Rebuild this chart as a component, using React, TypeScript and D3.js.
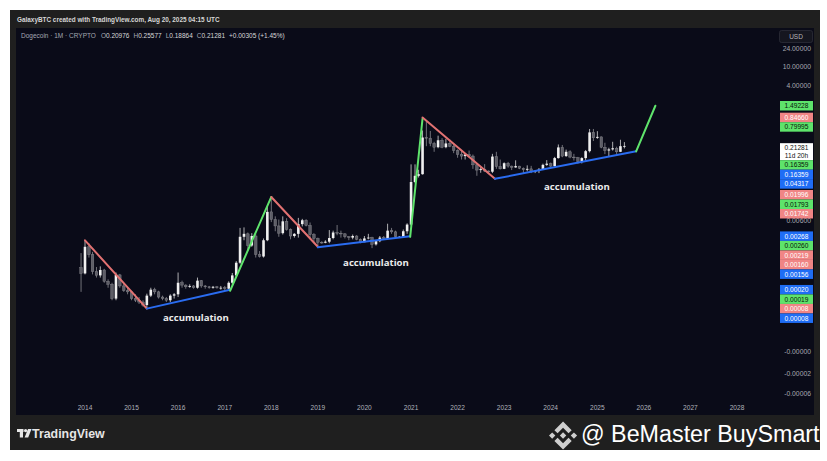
import React from "react";
import * as d3 from "d3";

const W = 827;
const H = 461;

// Monthly DOGE candles, first candle = Dec 2013
const firstYear = 2013;
const firstMonthIdx = 11;
const opens = [
  0.00058,
  0.00044, 0.0016, 0.0011, 0.00048, 0.0004, 0.00052, 0.0003, 0.00026, 0.00013, 0.00041, 0.00024, 0.00019,
  0.00018, 0.00013, 0.00012, 0.00011, 0.000095, 0.00015, 0.0002, 0.00018, 0.00014, 0.00013, 0.00012, 0.00015,
  0.00016, 0.00028, 0.00025, 0.00023, 0.00024, 0.00022, 0.00031, 0.00024, 0.00023, 0.00022, 0.00023, 0.00022,
  0.00022, 0.00021, 0.00028, 0.0004, 0.00074, 0.0026, 0.003, 0.0017, 0.0027, 0.0011, 0.001, 0.0022,
  0.0087, 0.006, 0.0044, 0.0031, 0.0055, 0.0037, 0.0027, 0.003, 0.0048, 0.0058, 0.0045, 0.0029,
  0.0024, 0.002, 0.00195, 0.00205, 0.00245, 0.0032, 0.0031, 0.003, 0.0026, 0.0025, 0.0027, 0.0023,
  0.002, 0.0024, 0.0025, 0.0018, 0.0021, 0.0025, 0.0024, 0.0035, 0.0033, 0.0026, 0.0026, 0.0034,
  0.0047, 0.037, 0.05, 0.054, 0.32, 0.31, 0.24, 0.2, 0.28, 0.2, 0.24, 0.21,
  0.17, 0.14, 0.13, 0.14, 0.13, 0.085, 0.066, 0.069, 0.063, 0.061, 0.127, 0.078,
  0.07, 0.092, 0.08, 0.075, 0.08, 0.072, 0.067, 0.07, 0.063, 0.063, 0.068, 0.085,
  0.09, 0.08, 0.118, 0.198, 0.13, 0.16, 0.124, 0.12, 0.1, 0.118, 0.165, 0.41,
  0.315, 0.33, 0.2, 0.17, 0.18, 0.19, 0.16, 0.20976,
];
const highs = [
  0.00118,
  0.0022, 0.0019, 0.00125, 0.0006, 0.00062, 0.00055, 0.00033, 0.00028, 0.00046, 0.00043, 0.00027, 0.00023,
  0.00019, 0.00016, 0.00014, 0.00012, 0.000165, 0.00022, 0.00022, 0.00019, 0.00015, 0.00014, 0.00016, 0.00017,
  0.00046, 0.00031, 0.00026, 0.00026, 0.00025, 0.00036, 0.00032, 0.00025, 0.00024, 0.00024, 0.00024, 0.00024,
  0.00024, 0.0003, 0.00045, 0.0008, 0.004, 0.0041, 0.0032, 0.0031, 0.003, 0.0013, 0.0024, 0.011,
  0.0186, 0.007, 0.006, 0.007, 0.0064, 0.0039, 0.0031, 0.0065, 0.0062, 0.0061, 0.0052, 0.0031,
  0.0025, 0.0021, 0.0022, 0.0036, 0.0035, 0.0046, 0.0035, 0.0031, 0.0027, 0.0029, 0.0028, 0.0024,
  0.0027, 0.003, 0.0026, 0.0022, 0.0027, 0.0027, 0.0049, 0.004, 0.0035, 0.0027, 0.0037, 0.005,
  0.087, 0.087, 0.067, 0.45, 0.74, 0.44, 0.26, 0.35, 0.31, 0.3, 0.29, 0.23,
  0.18, 0.17, 0.15, 0.17, 0.14, 0.09, 0.076, 0.088, 0.065, 0.145, 0.16, 0.11,
  0.096, 0.098, 0.082, 0.106, 0.081, 0.075, 0.083, 0.081, 0.065, 0.073, 0.09, 0.107,
  0.095, 0.125, 0.228, 0.223, 0.178, 0.172, 0.145, 0.125, 0.123, 0.175, 0.484, 0.484,
  0.435, 0.335, 0.248, 0.195, 0.26, 0.205, 0.287, 0.25577,
];
const lows = [
  0.00018,
  0.00042, 0.00095, 0.00042, 0.00036, 0.00036, 0.00028, 0.00022, 0.00012, 0.00012, 0.00022, 0.00018, 0.00016,
  0.00012, 0.00011, 0.0001, 0.000088, 0.00008, 0.00014, 0.00016, 0.00013, 0.00012, 0.00011, 0.00011, 0.00013,
  0.00014, 0.00022, 0.00021, 0.00022, 0.00021, 0.00021, 0.00022, 0.00021, 0.00021, 0.00021, 0.00021, 0.0002,
  0.00019, 0.0002, 0.00026, 0.00036, 0.0007, 0.0022, 0.0013, 0.0016, 0.00095, 0.00095, 0.00095, 0.0021,
  0.0053, 0.0034, 0.0026, 0.0029, 0.0035, 0.0023, 0.0025, 0.0025, 0.0043, 0.0043, 0.0023, 0.0019,
  0.00165, 0.00185, 0.0019, 0.0019, 0.0023, 0.0028, 0.0025, 0.0024, 0.0022, 0.0023, 0.0022, 0.0019,
  0.002, 0.0023, 0.0015, 0.0017, 0.002, 0.0023, 0.0024, 0.003, 0.0024, 0.0025, 0.0025, 0.003,
  0.0045, 0.035, 0.046, 0.053, 0.21, 0.21, 0.16, 0.19, 0.19, 0.19, 0.2, 0.15,
  0.12, 0.11, 0.11, 0.12, 0.07, 0.05, 0.058, 0.06, 0.057, 0.057, 0.07, 0.068,
  0.069, 0.074, 0.066, 0.074, 0.069, 0.055, 0.062, 0.057, 0.057, 0.057, 0.067, 0.081,
  0.076, 0.078, 0.115, 0.123, 0.125, 0.117, 0.105, 0.09, 0.091, 0.106, 0.155, 0.27,
  0.3, 0.19, 0.143, 0.13, 0.17, 0.142, 0.158, 0.18864,
];
const closes = [
  0.00044,
  0.0016, 0.0011, 0.00048, 0.0004, 0.00052, 0.0003, 0.00026, 0.00013, 0.00041, 0.00024, 0.00019, 0.00018,
  0.00013, 0.00012, 0.00011, 0.000095, 0.00015, 0.0002, 0.00018, 0.00014, 0.00013, 0.00012, 0.00015, 0.00016,
  0.00028, 0.00025, 0.00023, 0.00024, 0.00022, 0.00031, 0.00024, 0.00023, 0.00022, 0.00023, 0.00022, 0.00022,
  0.00021, 0.00028, 0.0004, 0.00074, 0.0026, 0.003, 0.0017, 0.0027, 0.0011, 0.001, 0.0022, 0.0087,
  0.006, 0.0044, 0.0031, 0.0055, 0.0037, 0.0027, 0.003, 0.0048, 0.0058, 0.0045, 0.0029, 0.0024,
  0.002, 0.00195, 0.00205, 0.00245, 0.0032, 0.0031, 0.003, 0.0026, 0.0025, 0.0027, 0.0023, 0.002,
  0.0024, 0.0025, 0.0018, 0.0021, 0.0025, 0.0024, 0.0035, 0.0033, 0.0026, 0.0026, 0.0034, 0.0047,
  0.037, 0.05, 0.054, 0.32, 0.31, 0.24, 0.2, 0.28, 0.2, 0.24, 0.21, 0.17,
  0.14, 0.13, 0.14, 0.13, 0.085, 0.066, 0.069, 0.063, 0.061, 0.127, 0.078, 0.07,
  0.092, 0.08, 0.075, 0.08, 0.072, 0.067, 0.07, 0.063, 0.063, 0.068, 0.085, 0.09,
  0.08, 0.118, 0.198, 0.13, 0.16, 0.124, 0.12, 0.1, 0.118, 0.165, 0.41, 0.315,
  0.33, 0.2, 0.17, 0.18, 0.19, 0.16, 0.21, 0.21281,
];

// Trend lines (cycle drawings)
const trendKinds = ["red", "blue", "green", "red", "blue", "green", "red", "blue", "green"];
const trendStartDates = ["2014-01-01", "2015-05-01", "2017-02-12", "2018-01-01", "2019-01-01", "2020-12-25", "2021-04-01", "2022-10-21", "2025-11-01"];
const trendStartPrices = [0.00219, 0.00008, 0.00019, 0.01793, 0.00156, 0.0026, 0.8466, 0.04317, 0.16359];
const trendEndDates = ["2015-05-01", "2017-02-12", "2018-01-01", "2019-01-01", "2020-12-25", "2021-04-01", "2022-10-21", "2025-11-01", "2026-04-01"];
const trendEndPrices = [0.00008, 0.0002, 0.01793, 0.0016, 0.00268, 0.79995, 0.04317, 0.16359, 1.49228];

// Annotations
const noteTexts = ["accumulation", "accumulation", "accumulation"];
const noteDates = ["2016-05-20", "2020-04-01", "2024-07-25"];
const notePrices = [0.0000507, 0.00073, 0.029];

// Price-axis labels of drawings
const labelTexts = ["1.49228", "0.84660", "0.79995", "0.16359", "0.16359", "0.04317", "0.01996", "0.01793", "0.01742", "0.00268", "0.00260", "0.00219", "0.00160", "0.00156", "0.00020", "0.00019", "0.00008", "0.00008"];
const labelKinds = ["green", "red", "green", "green", "blue", "blue", "red", "green", "red", "blue", "green", "red", "red", "blue", "blue", "green", "red", "blue"];
const lastPrice = 0.21281;
const lastPriceText = "0.21281";
const countdownText = "11d 20h";

// Grey price ticks
const tickTexts = ["24.00000", "10.00000", "4.00000", "0.00600", "-0.00000", "-0.00002", "-0.00006"];
const tickAnchors = [24, 10, 4, 0.0057, 0.0000098, 0.0000035, 0.0000013];

const yearTicks = [2014, 2015, 2016, 2017, 2018, 2019, 2020, 2021, 2022, 2023, 2024, 2025, 2026, 2027, 2028];

const headerText = "GalaxyBTC created with TradingView.com, Aug 20, 2025 04:15 UTC";
const symbolText = "Dogecoin \u00b7 1M \u00b7 CRYPTO";
const ohlcNames = ["O", "H", "L", "C"];
const ohlcValues = ["0.20976", "0.25577", "0.18864", "0.21281"];
const changeText = "+0.00305 (+1.45%)";

const LINE_COLORS: Record<string, string> = { red: "#e27272", blue: "#2a6cf0", green: "#5fe46c" };
const LABEL_BG: Record<string, string> = { red: "#f08585", blue: "#1f6df5", green: "#5ee36b" };
const LABEL_FG: Record<string, string> = { red: "#ffffff", blue: "#ffffff", green: "#06140a" };

const FONT = "'Liberation Sans', Arial, sans-serif";

type Item = { text: string; sub?: string; bg: string; fg: string; want: number; h: number; top?: number };

// TradingView-like stacking: labels keep their price unless pushed down by the one above
function layoutLabels(items: Item[]) {
  const sorted = [...items].sort((a, b) => a.want - b.want);
  let prevBottom = -Infinity;
  sorted.forEach((it) => {
    const t = Math.max(it.want - 4.75, prevBottom);
    it.top = t;
    prevBottom = t + it.h;
  });
  return sorted;
}

function BinanceLogo({ x, y, s }: { x: number; y: number; s: number }) {
  return (
    <g transform={`translate(${x},${y}) scale(${s})`}>
      <path
        fill="#cfcfcf"
        d="M38.73 53.2l24.59-24.58 24.6 24.6 14.3-14.31L63.32 0 24.43 38.9l14.3 14.3zM0 63.31l14.3-14.31 14.31 14.31-14.31 14.3zM38.73 73.41l24.59 24.59 24.6-24.6 14.31 14.29-38.9 38.91-38.91-38.88-.02-.02zM98 63.31L112.3 49l14.31 14.3-14.31 14.32zM77.83 63.3L63.32 48.78 52.59 59.51l-1.24 1.230-2.54 2.54-.02.02.02.03 14.51 14.5 14.51-14.52.01-.01-.01-.01z"
      />
    </g>
  );
}

export default function App() {
  const x = d3
    .scaleUtc()
    .domain([new Date(Date.UTC(2014, 0, 1)), new Date(Date.UTC(2028, 0, 1))])
    .range([85, 737]);
  const y = d3.scaleLog().domain([1, 0.0001]).range([114, 304]);

  const months = opens.map((_, i) => new Date(Date.UTC(firstYear, firstMonthIdx + i, 1)));
  const bodyW = 2.6;

  const lineGen = d3
    .line<[Date, number]>()
    .x((d) => x(d[0]))
    .y((d) => y(d[1]));

  const items: Item[] = labelTexts.map((t, i) => ({
    text: t,
    bg: LABEL_BG[labelKinds[i]],
    fg: LABEL_FG[labelKinds[i]],
    want: y(parseFloat(t)),
    h: 9.5,
  }));
  items.push({ text: lastPriceText, sub: countdownText, bg: "#ffffff", fg: "#111111", want: y(lastPrice) + 2, h: 17 });
  const laid = layoutLabels(items);

  const labelX = 780;
  const labelW = 33;

  return (
    <svg width={W} height={H} style={{ position: "absolute", left: 0, top: 0 }} fontFamily={FONT}>
      <rect x={0} y={0} width={W} height={H} fill="#ffffff" />
      <rect x={10} y={10} width={810} height={440} fill="#1f1f1f" />
      <rect x={16} y={28} width={798} height={387} fill="#0a0b18" />

      <text x={17} y={21.5} fontSize={6.4} fill="#d6d6d6" fontWeight={600}>
        {headerText}
      </text>
      <text x={21} y={37.5} fontSize={6.5} fill="#a4a7b2">
        <tspan>{symbolText}</tspan>
        {ohlcNames.map((n, i) => (
          <tspan key={n} dx={i === 0 ? 5 : 4}>
            {n}
            <tspan fill="#d8d8d8">{ohlcValues[i]}</tspan>
          </tspan>
        ))}
        <tspan dx={4} fill="#d8d8d8">{changeText}</tspan>
      </text>

      <clipPath id="plot">
        <rect x={16} y={28} width={760} height={387} />
      </clipPath>
      <g clipPath="url(#plot)">
        {months.map((d, i) => {
          const cx = x(d);
          const up = closes[i] >= opens[i];
          const top = y(Math.max(opens[i], closes[i]));
          const bot = y(Math.min(opens[i], closes[i]));
          return (
            <g key={i}>
              <line x1={cx} x2={cx} y1={y(highs[i])} y2={y(lows[i])} stroke={up ? "#d8d8d8" : "#8c8c92"} strokeWidth={0.8} />
              <rect
                x={cx - bodyW / 2}
                y={top}
                width={bodyW}
                height={Math.max(0.8, bot - top)}
                fill={up ? "#f0f0f0" : "#5d5d66"}
                stroke={up ? "none" : "#8c8c92"}
                strokeWidth={0.4}
              />
            </g>
          );
        })}
        {trendKinds.map((k, i) => (
          <path
            key={i}
            d={lineGen([
              [new Date(trendStartDates[i] + "T00:00:00Z"), trendStartPrices[i]],
              [new Date(trendEndDates[i] + "T00:00:00Z"), trendEndPrices[i]],
            ]) || ""}
            stroke={LINE_COLORS[k]}
            strokeWidth={2}
            fill="none"
            strokeLinecap="round"
          />
        ))}
        {noteTexts.map((t, i) => (
          <text
            key={i}
            x={x(new Date(noteDates[i] + "T00:00:00Z"))}
            y={y(notePrices[i])}
            textAnchor="middle"
            dominantBaseline="middle"
            fontSize={9.6}
            fontWeight={700}
            fill="#ececec"
            fontFamily="'Open Sans', 'DejaVu Sans', sans-serif"
          >
            {t}
          </text>
        ))}
      </g>

      {/* price axis */}
      <rect x={779.5} y={30.5} width={33} height={12} rx={2} fill="#15161f" stroke="#2c2d38" strokeWidth={0.8} />
      <text x={796} y={39} textAnchor="middle" fontSize={6.5} fill="#b4b4b8">
        USD
      </text>
      {tickTexts.map((t, i) => (
        <text key={t} x={811} y={y(tickAnchors[i])} dy="0.35em" textAnchor="end" fontSize={6.8} fill="#a6a8b0">
          {t}
        </text>
      ))}
      {laid.map((it, i) => (
        <g key={i}>
          <rect x={labelX} y={it.top} width={labelW} height={it.h} fill={it.bg} />
          <text x={labelX + labelW / 2} y={(it.top || 0) + 4.75} dy="0.36em" textAnchor="middle" fontSize={6.6} fill={it.fg}>
            {it.text}
          </text>
          {it.sub && (
            <text x={labelX + labelW / 2} y={(it.top || 0) + 12.5} dy="0.36em" textAnchor="middle" fontSize={6.6} fill={it.fg}>
              {it.sub}
            </text>
          )}
        </g>
      ))}

      {/* time axis */}
      {yearTicks.map((yr) => (
        <text key={yr} x={x(new Date(Date.UTC(yr, 0, 1)))} y={409.5} textAnchor="middle" fontSize={6.6} fill="#b0b2ba">
          {yr}
        </text>
      ))}

      {/* footer */}
      <g fill="#e6e6e6">
        <rect x={17} y={429} width={6.5} height={3} />
        <rect x={19.8} y={429} width={3.2} height={8.5} />
        <circle cx={25.6} cy={430.6} r={1.6} />
        <polygon points="28,429 31.5,429 28.2,437.5 24.6,437.5" />
      </g>
      <text x={32} y={437.5} fontSize={12.4} fontWeight={600} fill="#e6e6e6" fontFamily="'Liberation Sans', Arial, sans-serif">
        TradingView
      </text>
      <BinanceLogo x={549} y={421.5} s={0.222} />
      <text x={581} y={442} fontSize={23.3} fill="#ffffff" fontFamily="'Liberation Sans', Arial, sans-serif">
        @ BeMaster BuySmart
      </text>
    </svg>
  );
}
